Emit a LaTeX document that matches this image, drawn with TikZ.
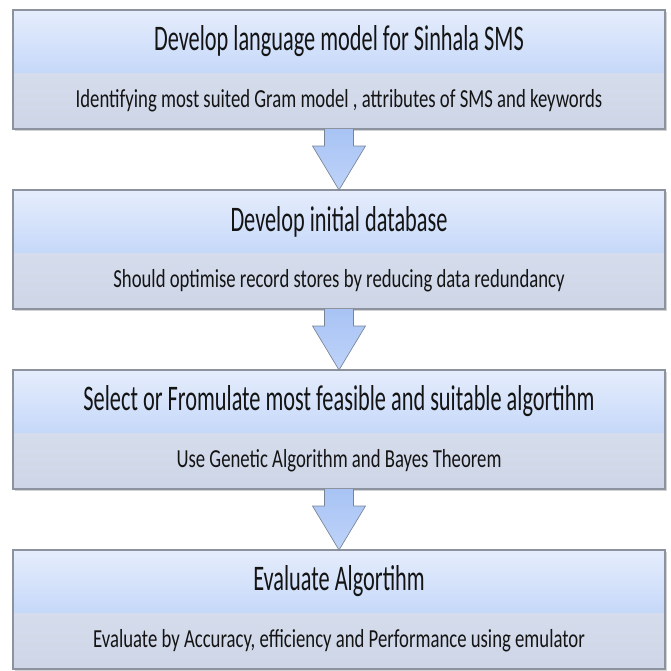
\documentclass[tikz,border=0pt]{standalone}
\usepackage{fontspec}
\setmainfont{Carlito}
\newfontfamily\headfont[FakeStretch=0.62]{Carlito}
\newfontfamily\subfont[FakeStretch=0.72]{Carlito}
\usetikzlibrary{positioning,calc,shadows}

\definecolor{headtop}{RGB}{229,237,252}
\definecolor{headbot}{RGB}{198,216,249}
\definecolor{subtop}{RGB}{213,221,237}
\definecolor{subbot}{RGB}{205,213,230}
\definecolor{framegray}{RGB}{140,146,158}
\definecolor{arrowtop}{RGB}{168,195,244}
\definecolor{arrowbot}{RGB}{190,211,249}
\definecolor{arrowline}{RGB}{120,132,152}
\definecolor{textgray}{RGB}{20,20,20}

\tikzset{
	stagehead/.style={minimum width=489pt, minimum height=47.25pt, inner sep=0pt, outer sep=0pt,
		top color=headtop, bottom color=headbot, text=textgray,
		drop shadow={opacity=0.35, shadow xshift=1.5pt, shadow yshift=-1.5pt},
		font=\headfont\fontsize{27}{30}\selectfont},
	stagebody/.style={minimum width=489pt, minimum height=42pt, inner sep=0pt, outer sep=0pt,
		top color=subtop, bottom color=subbot, text=textgray,
		drop shadow={opacity=0.35, shadow xshift=1.5pt, shadow yshift=-1.5pt},
		font=\subfont\fontsize{19.5}{22}\selectfont},
	stageframe/.style={draw=framegray, line width=0.9pt},
	flowarrow/.style={draw=arrowline, line width=0.5pt, top color=arrowtop, bottom color=arrowbot}
}

\begin{document}
\begin{tikzpicture}[x=0.75pt,y=-0.75pt]
	\useasboundingbox (0,0) rectangle (671,671);
	
	%Language model stage
	\node[stagehead, anchor=north west] (head1) at (13,10) {Develop language model for Sinhala SMS};
	\node[stagebody, below=0pt of head1] (body1) {Identifying most suited Gram model , attributes of SMS and keywords};
	\draw[stageframe] (head1.north west) rectangle (body1.south east);
	
	%Database stage
	\node[stagehead, below=45.75pt of body1] (head2) {Develop initial database};
	\node[stagebody, below=0pt of head2] (body2) {Should optimise record stores by reducing data redundancy};
	\draw[stageframe] (head2.north west) rectangle (body2.south east);
	
	%Algorithm stage
	\node[stagehead, below=45.75pt of body2] (head3) {Select or Fromulate most feasible and suitable algortihm};
	\node[stagebody, below=0pt of head3] (body3) {Use Genetic Algorithm  and Bayes Theorem};
	\draw[stageframe] (head3.north west) rectangle (body3.south east);
	
	%Evaluation stage
	\node[stagehead, below=45.75pt of body3] (head4) {Evaluate Algortihm};
	\node[stagebody, below=0pt of head4] (body4) {Evaluate by Accuracy, efficiency and Performance  using emulator};
	\draw[stageframe] (head4.north west) rectangle (body4.south east);
	
	%Block arrows between stages
	\foreach \a/\b in {body1/head2,body2/head3,body3/head4}
	\path[flowarrow] ($(\a.south)+(-14.5,0)$) -- ($(\a.south)+(-14.5,17)$) -- ($(\a.south)+(-26.5,17)$)
	-- (\b.north) -- ($(\a.south)+(26.5,17)$) -- ($(\a.south)+(14.5,17)$) -- ($(\a.south)+(14.5,0)$);
	
\end{tikzpicture}
\end{document}
